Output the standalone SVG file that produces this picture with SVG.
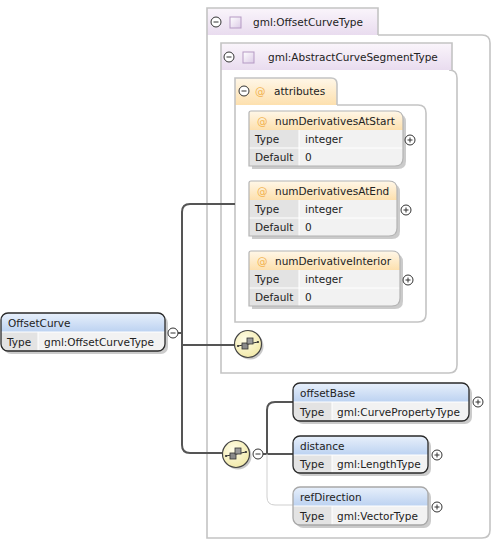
<svg xmlns="http://www.w3.org/2000/svg" width="494" height="541" viewBox="0 0 494 541">
<defs>
<linearGradient id="gHead" x1="0" y1="0" x2="0" y2="1"><stop offset="0" stop-color="#e8f0fb"/><stop offset="1" stop-color="#bcd2f1"/></linearGradient>
<linearGradient id="gAttr" x1="0" y1="0" x2="0" y2="1"><stop offset="0" stop-color="#fff7e8"/><stop offset="1" stop-color="#fde0ae"/></linearGradient>
<linearGradient id="gType" x1="0" y1="0" x2="0" y2="1"><stop offset="0" stop-color="#faf5fb"/><stop offset="1" stop-color="#e9dcef"/></linearGradient>
<linearGradient id="gSq" x1="0" y1="0" x2="1" y2="1"><stop offset="0" stop-color="#ffffff"/><stop offset="1" stop-color="#dccbe6"/></linearGradient>
<radialGradient id="gSeq" cx="0.4" cy="0.35" r="0.7"><stop offset="0" stop-color="#fffde8"/><stop offset="1" stop-color="#f1e8a6"/></radialGradient>
<clipPath id="cOC"><rect x="1" y="313" width="164" height="38" rx="7"/></clipPath>
<clipPath id="cOB"><rect x="293" y="383" width="176" height="38" rx="7"/></clipPath>
<clipPath id="cDI"><rect x="293" y="436" width="135" height="37" rx="7"/></clipPath>
<clipPath id="cRD"><rect x="293" y="487" width="135" height="38" rx="7"/></clipPath>
<clipPath id="cA1"><path d="M251,111 H395 Q403,111 403,119 V158 Q403,166 395,166 H249 V113 Q249,111 251,111 Z"/></clipPath>
<clipPath id="cA2"><path d="M251,181 H389 Q397,181 397,189 V228 Q397,236 389,236 H249 V183 Q249,181 251,181 Z"/></clipPath>
<clipPath id="cA3"><path d="M251,251 H392 Q400,251 400,259 V298 Q400,306 392,306 H249 V253 Q249,251 251,251 Z"/></clipPath>
<g id="minus"><circle r="5" fill="#fff" stroke="#333" stroke-width="1"/><line x1="-2.5" y1="0" x2="2.5" y2="0" stroke="#333" stroke-width="1"/></g>
<g id="plus"><circle r="5" fill="#fff" stroke="#333" stroke-width="1"/><line x1="-2.5" y1="0" x2="2.5" y2="0" stroke="#333" stroke-width="1"/><line x1="0" y1="-2.5" x2="0" y2="2.5" stroke="#333" stroke-width="1"/></g>
<g id="seq">
<circle cx="2" cy="2" r="13.5" fill="#9a9a9a" opacity="0.55"/>
<circle r="13.5" fill="url(#gSeq)" stroke="#444" stroke-width="1.2"/>
<line x1="-10" y1="2" x2="10" y2="-2" stroke="#333" stroke-width="1"/>
<rect x="-6" y="-1" width="6" height="6" fill="#8a8a8a" stroke="#333" stroke-width="0.8"/>
<rect x="-1" y="-6" width="6" height="6" fill="#9a9a9a" stroke="#333" stroke-width="0.8"/>
<circle cx="-10" cy="2" r="1.1" fill="#333"/><circle cx="10" cy="-2" r="1.1" fill="#333"/>
</g>
</defs>
<style>
text{font-family:"DejaVu Sans","Liberation Sans",sans-serif;font-size:10.5px;fill:#222}
.tb{fill:none;stroke:#c4c4c4;stroke-width:1.6}
.sh{fill:#a8a8a8;opacity:0.6}
.eb{fill:none;stroke:#2a2a2a;stroke-width:1.3}
.ebo{fill:none;stroke:#a8a8a8;stroke-width:1.3}
.ab{fill:none;stroke:#b4b4b4;stroke-width:1.2}
.lc{fill:#e3e3e3}
.vc{fill:#f2f2f2}
.dv{stroke:#ffffff;stroke-width:1}
.at{fill:#f2b24e}
.cn{fill:none;stroke:#555;stroke-width:2}
.cl{fill:none;stroke:#cfcfcf;stroke-width:1}
</style>

<g id="type-OffsetCurveType">
<path d="M378,35 H482 Q490,35 490,43 V530 Q490,538 482,538 H207 V35" fill="#ffffff" class="tb"/>
<path d="M207,35 V8 H378 V35 Z" fill="url(#gType)" stroke="none"/>
<path d="M207,35 V8 H378 V35" class="tb"/>
<use href="#minus" x="216" y="22"/>
<rect x="230" y="17" width="11" height="11" fill="url(#gSq)" stroke="#b59ac4" stroke-width="1"/>
<text x="253" y="26">gml:OffsetCurveType</text>
</g>

<g id="type-AbstractCurveSegmentType">
<path d="M452,70 H449 Q457,70 457,78 V365 Q457,373 449,373 H221 V70" fill="#f8f4fa" class="tb"/>
<path d="M221,70 V43 H452 V70 Z" fill="url(#gType)" stroke="none"/>
<path d="M221,70 V43 H452 V70" class="tb"/>
<use href="#minus" x="229" y="57"/>
<rect x="243" y="52" width="11" height="11" fill="url(#gSq)" stroke="#b59ac4" stroke-width="1"/>
<text x="268" y="61">gml:AbstractCurveSegmentType</text>
</g>

<g id="attributes">
<path d="M337,105 H418 Q426,105 426,113 V314 Q426,322 418,322 H235 V105" fill="#fff9ef" class="tb"/>
<path d="M235,105 V78 H331 Q337,78 337,84 V105 Z" fill="url(#gAttr)" stroke="none"/>
<path d="M235,105 V78 H331 Q337,78 337,84 V105" class="tb"/>
<use href="#minus" x="244" y="91"/>
<text x="255" y="95" class="at">@</text>
<text x="274" y="95">attributes</text>
</g>

<g id="attr-numDerivativesAtStart">
<path d="M254,114 H398 Q406,114 406,122 V161 Q406,169 398,169 H252 V116 Z" class="sh"/>
<g clip-path="url(#cA1)">
<rect x="249" y="111" width="154" height="19" fill="url(#gAttr)"/>
<rect x="249" y="130" width="50" height="36" class="lc"/>
<rect x="299" y="130" width="104" height="36" class="vc"/>
<line x1="249" y1="148" x2="403" y2="148" class="dv"/>
<line x1="299" y1="130" x2="299" y2="166" class="dv"/>
</g>
<path d="M251,111 H395 Q403,111 403,119 V158 Q403,166 395,166 H249 V113 Q249,111 251,111 Z" class="ab"/>
<text x="257" y="125" class="at">@</text>
<text x="275" y="125">numDerivativesAtStart</text>
<text x="255" y="143">Type</text><text x="305" y="143">integer</text>
<text x="255" y="161">Default</text><text x="305" y="161">0</text>
<use href="#plus" x="410" y="140"/>
</g>

<g id="attr-numDerivativesAtEnd">
<path d="M254,184 H392 Q400,184 400,192 V231 Q400,239 392,239 H252 V186 Z" class="sh"/>
<g clip-path="url(#cA2)">
<rect x="249" y="181" width="148" height="19" fill="url(#gAttr)"/>
<rect x="249" y="200" width="50" height="36" class="lc"/>
<rect x="299" y="200" width="98" height="36" class="vc"/>
<line x1="249" y1="218" x2="397" y2="218" class="dv"/>
<line x1="299" y1="200" x2="299" y2="236" class="dv"/>
</g>
<path d="M251,181 H389 Q397,181 397,189 V228 Q397,236 389,236 H249 V183 Q249,181 251,181 Z" class="ab"/>
<text x="257" y="195" class="at">@</text>
<text x="275" y="195">numDerivativesAtEnd</text>
<text x="255" y="213">Type</text><text x="305" y="213">integer</text>
<text x="255" y="231">Default</text><text x="305" y="231">0</text>
<use href="#plus" x="406" y="210"/>
</g>

<g id="attr-numDerivativeInterior">
<path d="M254,254 H395 Q403,254 403,262 V301 Q403,309 395,309 H252 V256 Z" class="sh"/>
<g clip-path="url(#cA3)">
<rect x="249" y="251" width="151" height="19" fill="url(#gAttr)"/>
<rect x="249" y="270" width="50" height="36" class="lc"/>
<rect x="299" y="270" width="101" height="36" class="vc"/>
<line x1="249" y1="288" x2="400" y2="288" class="dv"/>
<line x1="299" y1="270" x2="299" y2="306" class="dv"/>
</g>
<path d="M251,251 H392 Q400,251 400,259 V298 Q400,306 392,306 H249 V253 Q249,251 251,251 Z" class="ab"/>
<text x="257" y="265" class="at">@</text>
<text x="275" y="265">numDerivativeInterior</text>
<text x="255" y="283">Type</text><text x="305" y="283">integer</text>
<text x="255" y="301">Default</text><text x="305" y="301">0</text>
<use href="#plus" x="408" y="280"/>
</g>

<g id="connectors">
<line x1="178" y1="333" x2="182" y2="333" class="cn"/>
<path d="M235,204 H190 Q182,204 182,212 V445 Q182,453 190,453 H222" class="cn"/>
<line x1="182" y1="345" x2="235" y2="345" class="cn"/>
<line x1="263" y1="454" x2="293" y2="454" class="cn"/>
<path d="M293,402 H275 Q267,402 267,410 V454" class="cn"/>
<path d="M267,454 V497 Q267,505 275,505 H293" class="cl"/>
</g>

<g id="seq-1"><use href="#seq" x="248" y="344"/></g>
<g id="seq-2"><use href="#seq" x="236" y="454"/><use href="#minus" x="258" y="454"/></g>

<g id="el-OffsetCurve">
<rect x="4" y="316" width="164" height="38" rx="7" class="sh"/>
<g clip-path="url(#cOC)">
<rect x="1" y="313" width="164" height="19" fill="url(#gHead)"/>
<rect x="1" y="332" width="37" height="19" class="lc"/>
<rect x="38" y="332" width="127" height="19" class="vc"/>
<line x1="1" y1="332" x2="165" y2="332" class="dv"/>
<line x1="38" y1="332" x2="38" y2="351" class="dv"/>
</g>
<rect x="1" y="313" width="164" height="38" rx="7" class="eb"/>
<text x="8" y="327">OffsetCurve</text>
<text x="7" y="346">Type</text><text x="44" y="346">gml:OffsetCurveType</text>
<use href="#minus" x="173" y="333"/>
</g>

<g id="el-offsetBase">
<rect x="296" y="386" width="176" height="38" rx="7" class="sh"/>
<g clip-path="url(#cOB)">
<rect x="293" y="383" width="176" height="19" fill="url(#gHead)"/>
<rect x="293" y="402" width="39" height="19" class="lc"/>
<rect x="332" y="402" width="137" height="19" class="vc"/>
<line x1="293" y1="402" x2="469" y2="402" class="dv"/>
<line x1="332" y1="402" x2="332" y2="421" class="dv"/>
</g>
<rect x="293" y="383" width="176" height="38" rx="7" class="eb"/>
<text x="300" y="397">offsetBase</text>
<text x="300" y="416">Type</text><text x="337" y="416">gml:CurvePropertyType</text>
<use href="#plus" x="478" y="402"/>
</g>

<g id="el-distance">
<rect x="296" y="439" width="135" height="37" rx="7" class="sh"/>
<g clip-path="url(#cDI)">
<rect x="293" y="436" width="135" height="19" fill="url(#gHead)"/>
<rect x="293" y="455" width="39" height="18" class="lc"/>
<rect x="332" y="455" width="96" height="18" class="vc"/>
<line x1="293" y1="455" x2="428" y2="455" class="dv"/>
<line x1="332" y1="455" x2="332" y2="473" class="dv"/>
</g>
<rect x="293" y="436" width="135" height="37" rx="7" class="eb"/>
<text x="300" y="450">distance</text>
<text x="300" y="468">Type</text><text x="337" y="468">gml:LengthType</text>
<use href="#plus" x="437" y="455"/>
</g>

<g id="el-refDirection">
<rect x="296" y="490" width="135" height="38" rx="7" class="sh" opacity="0.35"/>
<g clip-path="url(#cRD)">
<rect x="293" y="487" width="135" height="19" fill="url(#gHead)"/>
<rect x="293" y="506" width="39" height="19" class="lc"/>
<rect x="332" y="506" width="96" height="19" class="vc"/>
<line x1="293" y1="506" x2="428" y2="506" class="dv"/>
<line x1="332" y1="506" x2="332" y2="525" class="dv"/>
</g>
<rect x="293" y="487" width="135" height="38" rx="7" class="ebo"/>
<text x="300" y="501">refDirection</text>
<text x="300" y="520">Type</text><text x="337" y="520">gml:VectorType</text>
<use href="#plus" x="437" y="507"/>
</g>
</svg>
